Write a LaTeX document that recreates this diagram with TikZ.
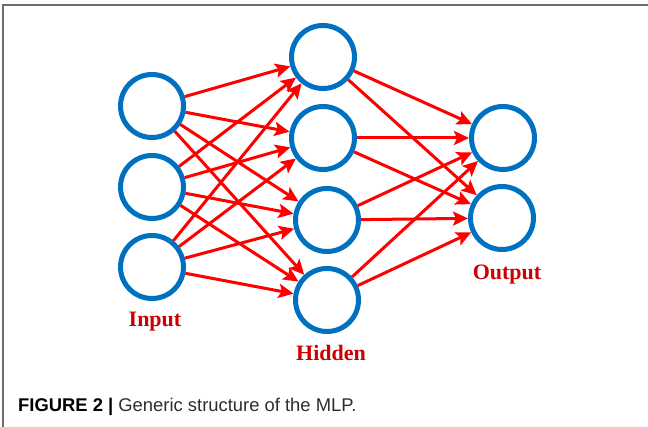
\documentclass[tikz,border=0pt]{standalone}
\usepackage{fontspec}
\setmainfont{Liberation Serif}
\newfontfamily\capfont{Liberation Sans}
\usetikzlibrary{arrows.meta}
\definecolor{nodeblue}{RGB}{0,112,192}
\definecolor{labelred}{RGB}{204,0,0}
\definecolor{arrowred}{RGB}{255,0,0}
\definecolor{framegray}{RGB}{110,110,110}
\definecolor{capgray}{RGB}{45,45,45}
\begin{document}
\begin{tikzpicture}[x=1pt,y=-1pt,
  neuron/.style={circle,draw=nodeblue,line width=5pt,minimum size=63pt,inner sep=0pt},
  conn/.style={draw=arrowred,line width=3pt,-{Stealth[length=15pt,width=14pt,inset=3pt]}},
  layerlabel/.style={text=labelred,font=\fontsize{22}{26}\selectfont\bfseries,anchor=base,inner sep=0pt},
  captext/.style={text=capgray,font=\capfont\fontsize{18.4}{22}\selectfont,anchor=base west,inner sep=0pt},
  framestyle/.style={draw=framegray,line width=1.5pt}
]
\useasboundingbox (0,0) rectangle (648,427);
% frame
\coordinate (fb) at (3,427);
\coordinate (fc) at (3,5);
\coordinate (fr) at (648,5);
\draw[framestyle] (fb) -- (fc) -- (fr);
% neurons
\node[neuron] (i1) at (152,106) {};
\node[neuron] (i2) at (152,187) {};
\node[neuron] (i3) at (152,267) {};
\node[neuron] (h1) at (323,57) {};
\node[neuron] (h2) at (323,138) {};
\node[neuron] (h3) at (327,220) {};
\node[neuron] (h4) at (327,300) {};
\node[neuron] (o1) at (503,138) {};
\node[neuron] (o2) at (502,218) {};
% connections
\foreach \a in {i1,i2,i3}{
  \foreach \b in {h1,h2,h3,h4}{
    \draw[conn] (\a) -- (\b);
  }
}
\foreach \a in {h1,h2,h3,h4}{
  \foreach \b in {o1,o2}{
    \draw[conn] (\a) -- (\b);
  }
}
% labels
\node[layerlabel] (linput) at (155,327) {Input};
\node[layerlabel] (lhidden) at (331,361) {Hidden};
\node[layerlabel] (loutput) at (507,280) {Output};
% caption
\node[captext] (cap) at (18,412) {\textcolor{black}{\textbf{FIGURE 2 |}} Generic structure of the MLP.};
\end{tikzpicture}
\end{document}
